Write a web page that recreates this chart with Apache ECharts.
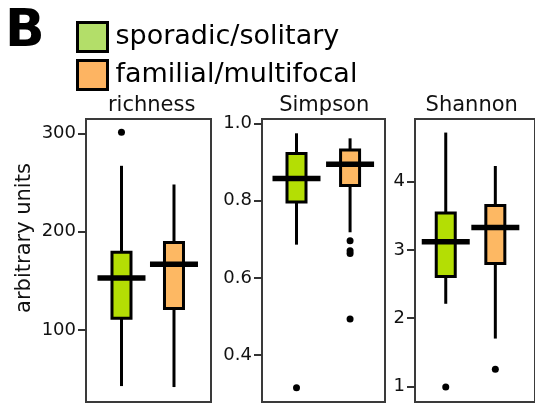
<!DOCTYPE html>
<html>
<head>
<meta charset="utf-8">
<script src="https://cdn.jsdelivr.net/npm/echarts@6/dist/echarts.min.js"></script>
<style>html,body{margin:0;padding:0;background:#fff;}#c{width:535px;height:405px;}</style>
</head>
<body>
<div id="c"></div>
<script>
// ---- data ----
const groups = ['sporadic/solitary', 'familial/multifocal'];
const groupPos = [1, 2];
const panels = ['richness', 'Simpson', 'Shannon'];
// five-number summaries: [lower whisker, Q1, median, Q3, upper whisker]
const richnessSporadic = [43, 112, 153, 179, 267];
const richnessFamilial = [42, 122, 167, 189, 248];
const richnessOutSporadic = [301];
const richnessOutFamilial = [];
const simpsonSporadic = [0.686, 0.796, 0.857, 0.922, 0.974];
const simpsonFamilial = [0.718, 0.839, 0.894, 0.931, 0.961];
const simpsonOutSporadic = [0.316];
const simpsonOutFamilial = [0.696, 0.670, 0.663, 0.494];
const shannonSporadic = [2.21, 2.61, 3.12, 3.54, 4.72];
const shannonFamilial = [1.70, 2.80, 3.33, 3.65, 4.23];
const shannonOutSporadic = [0.99];
const shannonOutFamilial = [1.25];
const richnessTicks = [100, 200, 300];
const simpsonTicks = [0.4, 0.6, 0.8, 1.0];
const shannonTicks = [1, 2, 3, 4];
const yAxisTitle = 'arbitrary units';
const panelLetter = 'B';

// ---- styles ----
const FONT = 'DejaVu Sans';
const boxColors = ['#b4de04', '#fdb863'];
const legendColors = ['#b3de69', '#fdb462'];

const boxData = [
  [richnessSporadic, richnessFamilial],
  [simpsonSporadic, simpsonFamilial],
  [shannonSporadic, shannonFamilial]
];
const outData = [
  [richnessOutSporadic, richnessOutFamilial],
  [simpsonOutSporadic, simpsonOutFamilial],
  [shannonOutSporadic, shannonOutFamilial]
];
const tickSets = [richnessTicks, simpsonTicks, shannonTicks];
const yRanges = [[26.8, 314.6], [0.279, 1.011], [0.77, 4.919]];
const xRanges = [[0.324, 2.705], [0.356, 2.652], [0.38, 2.80]];
const gridBoxes = [
  {left: 86, top: 119, width: 125, height: 283},
  {left: 262, top: 119, width: 123, height: 283},
  {left: 415, top: 119, width: 130, height: 283}
];
const titleX = [151.7, 324.2, 471.7];

function renderBox(params, api) {
  const x = api.value(0);
  const pMin = api.coord([x, api.value(1)]);
  const pQ1 = api.coord([x, api.value(2)]);
  const pMed = api.coord([x, api.value(3)]);
  const pQ3 = api.coord([x, api.value(4)]);
  const pMax = api.coord([x, api.value(5)]);
  const color = api.visual('color');
  const bw = 19, mw = 48;
  return {
    type: 'group',
    children: [
      {type: 'line', shape: {x1: pMin[0], y1: pMin[1], x2: pQ1[0], y2: pQ1[1]}, style: {stroke: '#000', lineWidth: 3}},
      {type: 'line', shape: {x1: pQ3[0], y1: pQ3[1], x2: pMax[0], y2: pMax[1]}, style: {stroke: '#000', lineWidth: 3}},
      {type: 'rect', shape: {x: pQ1[0] - bw / 2, y: pQ3[1], width: bw, height: pQ1[1] - pQ3[1]}, style: {fill: color, stroke: '#000', lineWidth: 3}},
      {type: 'line', shape: {x1: pMed[0] - mw / 2, y1: pMed[1], x2: pMed[0] + mw / 2, y2: pMed[1]}, style: {stroke: '#000', lineWidth: 5.5}}
    ]
  };
}

const grids = [], xAxes = [], yAxes = [], series = [], graphics = [];
panels.forEach((name, p) => {
  grids.push(Object.assign({show: true, borderColor: '#3a3a3a', borderWidth: 2, backgroundColor: 'transparent'}, gridBoxes[p]));
  xAxes.push({type: 'value', gridIndex: p, min: xRanges[p][0], max: xRanges[p][1], show: false});
  const ticks = tickSets[p];
  yAxes.push({
    type: 'value', gridIndex: p, min: yRanges[p][0], max: yRanges[p][1],
    axisLine: {show: false},
    splitLine: {show: false},
    axisTick: {show: true, length: 8, lineStyle: {color: '#333', width: 2}, customValues: ticks},
    axisLabel: {
      fontFamily: FONT, fontSize: 18, color: '#111', margin: 10, customValues: ticks,
      formatter: v => (p === 1 ? Number(v).toFixed(1) : String(Math.round(v)))
    }
  });
  groups.forEach((g, gi) => {
    series.push({
      type: 'custom', name: g, xAxisIndex: p, yAxisIndex: p,
      itemStyle: {color: boxColors[gi]},
      encode: {x: 0, y: [1, 2, 3, 4, 5]},
      renderItem: renderBox,
      data: [[groupPos[gi]].concat(boxData[p][gi])],
      silent: true, z: 2
    });
    series.push({
      type: 'scatter', name: g + ' outliers', xAxisIndex: p, yAxisIndex: p,
      symbol: 'circle', symbolSize: 7, itemStyle: {color: '#000', opacity: 1},
      data: outData[p][gi].map(v => [groupPos[gi], v]),
      silent: true, z: 3
    });
  });
  graphics.push({
    type: 'text', x: titleX[p], y: 106,
    style: {text: name, font: '21px "' + FONT + '"', fill: '#111', align: 'center', verticalAlign: 'middle'}
  });
});

graphics.push({
  type: 'text', x: 25, y: 238, rotation: Math.PI / 2,
  style: {text: yAxisTitle, font: '21px "' + FONT + '"', fill: '#111', align: 'center', verticalAlign: 'middle'}
});
graphics.push({
  type: 'text', x: 5, y: 32,
  style: {text: panelLetter, font: 'bold 52px "' + FONT + '"', fill: '#000', align: 'left', verticalAlign: 'middle'}
});

const chart = echarts.init(document.getElementById('c'), null, {renderer: 'canvas'});
chart.setOption({
  animation: false,
  backgroundColor: '#fff',
  textStyle: {fontFamily: FONT},
  grid: grids,
  xAxis: xAxes,
  yAxis: yAxes,
  legend: {
    orient: 'vertical', left: 76, top: 21, padding: 0,
    itemWidth: 30, itemHeight: 29, itemGap: 6,
    icon: 'rect',
    selectedMode: false,
    textStyle: {fontFamily: FONT, fontSize: 27, lineHeight: 29, color: '#000', padding: [0, 0, 0, 3]},
    data: groups.map((g, gi) => ({name: g, itemStyle: {color: legendColors[gi], borderColor: '#000', borderWidth: 3}}))
  },
  graphic: graphics,
  series: series
});
</script>
</body>
</html>
